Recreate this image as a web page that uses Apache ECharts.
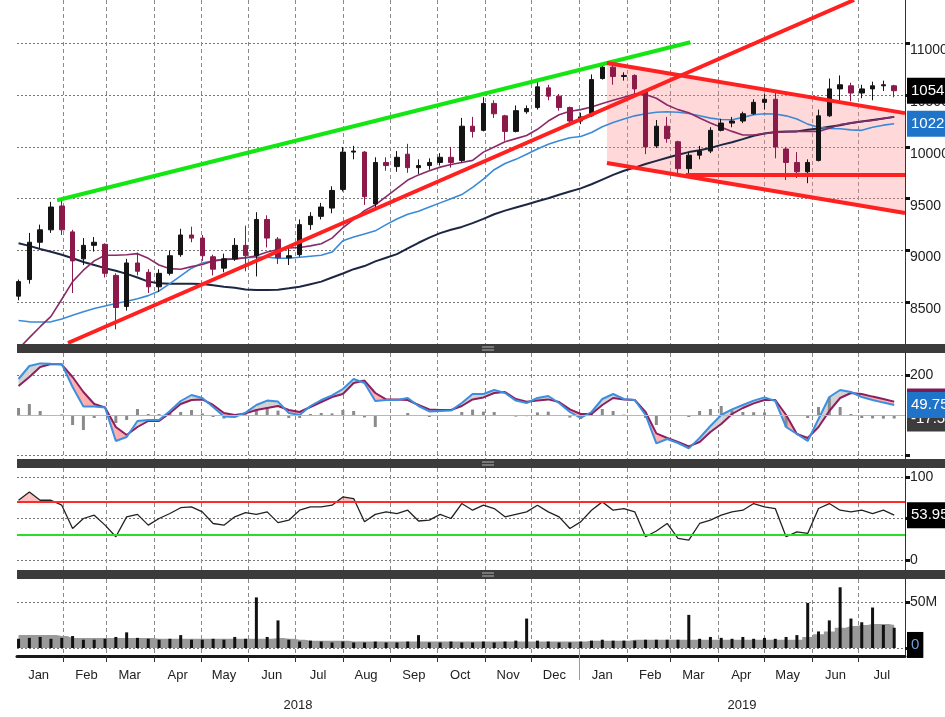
<!DOCTYPE html>
<html>
<head>
<meta charset="utf-8">
<title>Price, MACD, RSI and volume</title>
<script src="https://cdn.jsdelivr.net/npm/echarts@6.0.0/dist/echarts.min.js"></script>
<style>
  html, body { margin: 0; padding: 0; background: #fff; }
  #chart { width: 945px; height: 717px; }
</style>
</head>
<body>
<div id="chart"></div>
<script>
  // one entry per week, first week's Wednesday below
  const firstWeek = '2018-01-03';

  const weekOpen = [
    8560, 8720, 9080, 9200, 9430, 9180, 8920, 9050, 9060, 8760,
    8460, 8880, 8790, 8650, 8780, 8960, 9150, 9120, 8940, 8830,
    8920, 9050, 8950, 9300, 9110, 8930, 8960, 9250, 9330, 9410,
    9590, 9950, 9950, 9450, 9850, 9810, 9930, 9800, 9820, 9850,
    9900, 9870, 10200, 10160, 10420, 10300, 10150, 10340, 10380, 10570,
    10490, 10380, 10250, 10300, 10660, 10770, 10680, 10690, 10540, 10010,
    10200, 10050, 9790, 9920, 9960, 10160, 10230, 10250, 10320, 10430,
    10460, 9980, 9850, 9760, 9870, 10300, 10560, 10590, 10520, 10560,
    10590, 10590
  ];
  const weekClose = [
    8700, 9080, 9200, 9420, 9200, 8900, 9050, 9080, 8780, 8450,
    8880, 8800, 8650, 8780, 8950, 9150, 9120, 8950, 8820, 8920,
    9050, 8950, 9300, 9120, 8930, 8950, 9250, 9330, 9420, 9580,
    9950, 9960, 9520, 9850, 9820, 9900, 9800, 9820, 9850, 9900,
    9850, 10200, 10150, 10420, 10320, 10150, 10350, 10370, 10580, 10490,
    10380, 10250, 10290, 10650, 10770, 10680, 10690, 10560, 10000, 10200,
    10080, 9790, 9920, 9960, 10160, 10230, 10250, 10320, 10430, 10460,
    10000, 9850, 9760, 9850, 10300, 10560, 10600, 10520, 10560, 10590,
    10600, 10542.2
  ];
  const weekLow = [
    8520, 8680, 9020, 9170, 9150, 8590, 8860, 8990, 8740, 8240,
    8420, 8760, 8590, 8600, 8760, 8940, 9080, 8900, 8760, 8790,
    8900, 8800, 8750, 9030, 8870, 8860, 8940, 9200, 9300, 9360,
    9570, 9880, 9440, 9420, 9770, 9760, 9750, 9740, 9780, 9820,
    9800, 9850, 10090, 10150, 10280, 10060, 10140, 10320, 10360, 10450,
    10350, 10200, 10220, 10290, 10650, 10600, 10640, 10510, 9930, 9990,
    10040, 9740, 9730, 9880, 9940, 10150, 10190, 10230, 10310, 10360,
    9890, 9680, 9700, 9650, 9860, 10290, 10450, 10440, 10470, 10450,
    10540, 10480
  ];
  const weekHigh = [
    8720, 9170, 9250, 9470, 9490, 9200, 9120, 9130, 9070, 8780,
    8920, 8980, 8820, 8820, 9000, 9210, 9230, 9150, 8960, 8970,
    9120, 9240, 9370, 9340, 9130, 9050, 9300, 9370, 9460, 9620,
    10000, 10010, 9960, 9900, 9900, 9960, 10030, 9880, 9890, 9940,
    10000, 10280, 10290, 10480, 10450, 10310, 10400, 10400, 10640, 10600,
    10510, 10390, 10330, 10700, 10810, 10790, 10720, 10700, 10550, 10260,
    10290, 10060, 9950, 10010, 10190, 10270, 10290, 10340, 10460, 10510,
    10520, 10000, 9950, 9880, 10360, 10660, 10690, 10620, 10600, 10630,
    10640, 10600
  ];

  // moving averages (maroon, blue, navy)
  const maFast = [
    8050, 8160, 8265, 8365, 8530, 8700, 8810, 8900, 8955, 8955,
    8960, 8970, 8925, 8860, 8825, 8820, 8845, 8865, 8900, 8915,
    8920, 8930, 8950, 8985, 9010, 9025, 9030, 9045, 9065, 9120,
    9220, 9300, 9385, 9440, 9520, 9600, 9680, 9730, 9770, 9805,
    9830, 9850, 9870, 9950, 10000, 10050, 10080, 10110, 10170, 10250,
    10310, 10345, 10360, 10385, 10420, 10450, 10480, 10510, 10505, 10470,
    10405, 10360, 10330, 10280, 10230, 10190, 10150, 10115, 10115, 10130,
    10140, 10145, 10150, 10150, 10150, 10180, 10215, 10230, 10245, 10255,
    10275, 10290
  ];
  const maMid = [
    8325, 8312, 8310, 8312, 8340, 8375, 8410, 8440, 8465, 8488,
    8510, 8535, 8565, 8610, 8680, 8755, 8830, 8880, 8900, 8912,
    8920, 8930, 8935, 8935, 8925, 8925, 8935, 8945, 8955, 8985,
    9095, 9130, 9160, 9190, 9250, 9305, 9350, 9380, 9420, 9460,
    9500, 9540, 9610, 9690, 9780, 9840, 9880, 9930, 9980, 10025,
    10060, 10088, 10100, 10140, 10195, 10235, 10270, 10300, 10320, 10335,
    10340, 10335, 10322, 10300, 10278, 10265, 10262, 10285, 10310, 10320,
    10318, 10300, 10270, 10220, 10190, 10178, 10175, 10165, 10160, 10190,
    10210, 10222.9
  ];
  const maSlow = [
    9070, 9045, 9015, 8988, 8960, 8925, 8890, 8860, 8830, 8805,
    8775, 8740, 8700, 8685, 8680, 8680, 8680, 8678, 8665, 8650,
    8640, 8625, 8620, 8620, 8622, 8635, 8650, 8675, 8700, 8740,
    8778, 8820, 8850, 8895, 8930, 8965, 9020, 9075, 9125, 9168,
    9200, 9228, 9265, 9305, 9350, 9385, 9415, 9445, 9475, 9505,
    9538, 9570, 9600, 9640, 9685, 9730, 9770, 9800, 9835, 9865,
    9895, 9925, 9950, 9968, 9990, 10020, 10045, 10075, 10108, 10130,
    10145, 10148, 10150, 10165, 10178, 10195, 10210, 10230, 10245, 10260,
    10275, 10290
  ];

  // MACD panel
  const macdLine = [
    180, 245, 258, 256, 255, 140, 42, 42, 38, -130,
    -110, -30, -25, -25, 20, 70, 100, 85, 40, -8,
    -10, 12, 50, 72, 67, 10, 0, 45, 75, 98,
    130, 180, 160, 70, 75, 75, 85, 45, 18, 20,
    22, 60, 105, 105, 125, 110, 72, 60, 85, 95,
    60, 15, -15, 15, 80, 105, 80, 75, 0, -142,
    -120, -140, -167, -115, -55, 0, 28, 50, 72, 88,
    70, -60, -95, -130, -20, 90, 125, 115, 90, 75,
    62, 49.7556
  ];
  const signalLine = [
    145, 190, 240, 255, 252, 190, 115, 55, 38, -60,
    -100, -60, -30, -30, 10, 55, 75, 78, 50, 10,
    0, 8, 25, 35, 45, 25, 15, 40, 65, 90,
    105, 160, 172, 110, 78, 78, 75, 50, 28, 25,
    25, 45, 78, 88, 110, 115, 80, 66, 72, 78,
    65, 28, 5, 5, 50, 85, 78, 75, 15, -92,
    -115, -135, -157, -135, -85, -45, 5, 35, 58, 75,
    75, 0, -95, -115, -60, 20, 85, 110, 105, 92,
    80, 67.0
  ];
  const macdHist = [
    35, 55, 20, 0, 3, -50, -75, -15, 0, -40,
    -25, 30, 5, 5, 10, 15, 25, 8, -10, -18,
    -10, 4, 25, 37, 22, -15, -15, 5, 10, 8,
    25, 20, -12, -60, -3, -3, 10, -5, -10, -5,
    -3, 15, 27, 17, 15, -5, -8, -6, 13, 17,
    -5, -13, -20, 10, 30, 20, 2, 0, -15, -50,
    -5, -5, -10, 20, 30, 45, 23, 15, 14, 13,
    -5, -60, 0, -15, 40, 90, 40, 5, -15, -17,
    -18, -17.5
  ];

  // RSI panel
  const rsi = [
    72, 82, 72, 72, 66, 38, 50, 54, 42, 28,
    52, 55, 42, 50, 56, 63, 64, 58, 44, 42,
    52, 57, 55, 58, 45, 48, 60, 64, 64, 66,
    76, 74, 46, 55, 58, 56, 60, 47, 48, 55,
    50, 68, 60, 66, 62, 52, 55, 58, 66, 58,
    52, 38, 46, 60, 70, 60, 62, 58, 28, 35,
    44, 26, 24, 44, 48, 54, 58, 60, 68, 64,
    62, 28, 34, 32, 62, 68, 60, 58, 60, 56,
    60, 53.9585
  ];
  const rsiHigh = 70;
  const rsiLow = 30;

  // volume panel, millions
  const volume = [
    10, 11, 12, 10, 11, 13, 9, 9, 10, 12,
    17, 11, 10, 9, 10, 14, 9, 9, 10, 9,
    12, 10, 55, 12, 30, 9, 7, 8, 7, 6,
    7, 6, 6, 7, 6, 6, 7, 14, 6, 6,
    7, 6, 6, 7, 6, 7, 8, 32, 8, 7,
    6, 6, 7, 8, 9, 8, 8, 8, 9, 9,
    9, 9, 36, 10, 12, 11, 10, 12, 10, 11,
    10, 12, 14, 49, 18, 30, 66, 32, 28, 44,
    25, 22
  ];
  const volumeAvg = [
    14, 14, 14, 14, 13, 11, 11, 11, 11, 11,
    11, 11, 11, 10, 10, 10, 10, 10, 10, 10,
    10, 10, 10, 10, 11, 10, 9, 8, 8, 8,
    8, 7, 7, 7, 7, 7, 7, 7, 7, 7,
    7, 7, 7, 7, 7, 7, 7, 7, 7, 7,
    7, 7, 7, 8, 8, 8, 8, 9, 9, 9,
    9, 9, 9, 9, 9, 9, 9, 9, 9, 9,
    9, 9, 9, 12, 15, 18, 22, 24, 25, 26,
    26, 25
  ];
  const volumeTag = 3.3;

  // drawn trend lines: [date, price] end points
  const greenLine = [['2018-01-28', 9485], ['2019-03-14', 11010]];
  const redRise = [['2018-02-04', 8108], ['2019-06-28', 11418]];
  const channelTop = [['2019-01-19', 10810], ['2019-07-31', 10326]];
  const channelBottom = [['2019-01-19', 9845], ['2019-07-31', 9362]];
  const supportLine = [['2019-03-11', 9730], ['2019-07-31', 9730]];

  const priceTicks = [8500, 9000, 9500, 10000, 10500, 11000];
  const macdTicks = [-200, 200];
  const macdLabels = [200];
  const rsiTicks = [0, 50, 100];
  const rsiLabels = [0, 100];
  const volumeTicks = [0, 50];
  const volumeLabels = [50];
  const monthNames = ['Jan', 'Feb', 'Mar', 'Apr', 'May', 'Jun', 'Jul', 'Aug', 'Sep', 'Oct', 'Nov', 'Dec'];
  const axisStart = '2018-01-02';
  const axisEnd = '2019-07-31';
  const yearBreak = '2019-01-01';

  const FONT = '"Liberation Sans", Arial, sans-serif';
  const DAY = 864e5;

  function ts(s) {
    const p = s.split('-').map(Number);
    return new Date(p[0], p[1] - 1, p[2]).getTime();
  }

  const n = weekOpen.length;
  [weekClose, weekLow, weekHigh, maFast, maMid, maSlow, macdLine, signalLine, macdHist, rsi, volume, volumeAvg]
    .forEach((a, i) => { if (a.length !== n) throw new Error('length mismatch in array ' + i + ': ' + a.length); });

  const weekDates = weekOpen.map((_, k) => ts(firstWeek) + k * 7 * DAY);
  const xMin = ts(axisStart);
  const xMax = ts(axisEnd);

  const monthStarts = [];
  const monthMids = [];
  for (let m = 0; ; m++) {
    const start = new Date(2018, m, 1).getTime();
    if (start > xMax) break;
    if (start > xMin) monthStarts.push(start);
    monthMids.push(new Date(2018, m, 16).getTime());
  }
  const yearMids = [(xMin + ts(yearBreak)) / 2, (ts(yearBreak) + xMax) / 2];

  const gridBase = { left: 17, right: 40, containLabel: false, outerBoundsMode: 'none' };
  const grids = [
    Object.assign({ top: 0, height: 344 }, gridBase),
    Object.assign({ top: 353, height: 106 }, gridBase),
    Object.assign({ top: 468, height: 102 }, gridBase),
    Object.assign({ top: 579, height: 77 }, gridBase)
  ];

  // x axes are plain value axes holding timestamps, so custom tick lists work
  function timeAxis(gridIndex, bottom) {
    return {
      type: 'value', gridIndex, min: xMin, max: xMax,
      axisLine: { show: bottom, onZero: false, lineStyle: { color: '#1a1a1a', width: 3 } },
      axisTick: { show: bottom, customValues: monthStarts, length: 6, lineStyle: { color: '#333' } },
      axisLabel: {
        show: bottom, customValues: monthMids, margin: 13,
        formatter: (v) => monthNames[new Date(v).getMonth()],
        fontFamily: FONT, fontSize: 13, color: '#222'
      },
      splitLine: { show: true, lineStyle: { type: [4, 3], color: '#8a8a8a' } }
    };
  }

  function sideAxis(gridIndex, min, max, ticks, labels, fmt, vAlign) {
    return {
      type: 'value', gridIndex, position: 'right', min, max,
      axisLine: { show: true, lineStyle: { color: '#333' } },
      axisTick: { show: true, customValues: ticks, length: 5, lineStyle: { color: '#111', width: 3 } },
      axisLabel: {
        customValues: labels, margin: 5, verticalAlign: vAlign || 'middle',
        formatter: fmt || ((v) => String(v)),
        fontFamily: FONT, fontSize: 14, color: '#222'
      },
      splitLine: { show: true, lineStyle: { type: [2, 2], color: '#777' } }
    };
  }

  function tag(value, text, bg, fg) {
    return {
      yAxis: value,
      lineStyle: { color: 'rgba(0,0,0,0)', width: 0 },
      label: {
        show: true, position: 'end', distance: 2, formatter: text,
        backgroundColor: bg, color: fg || '#fff', fontFamily: FONT, fontSize: 15,
        padding: [6, 4, 5, 4]
      }
    };
  }

  // fill between two curves, coloured by which one is on top
  function bandRenderer(upper, lower, upColor, downColor) {
    return function (params, api) {
      const i = params.dataIndex;
      if (i >= n - 1) return null;
      const t0 = weekDates[i], t1 = weekDates[i + 1];
      const a0 = upper(i), a1 = upper(i + 1), b0 = lower(i), b1 = lower(i + 1);
      const d0 = a0 - b0, d1 = a1 - b1;
      const pa0 = api.coord([t0, a0]), pa1 = api.coord([t1, a1]);
      const pb0 = api.coord([t0, b0]), pb1 = api.coord([t1, b1]);
      const col = (d) => (d >= 0 ? upColor : downColor);
      const children = [];
      if (d0 * d1 < 0) {
        const f = d0 / (d0 - d1);
        const c = [pa0[0] + f * (pa1[0] - pa0[0]), pa0[1] + f * (pa1[1] - pa0[1])];
        if (col(d0)) children.push({ type: 'polygon', shape: { points: [pa0, c, pb0] }, style: { fill: col(d0) } });
        if (col(d1)) children.push({ type: 'polygon', shape: { points: [c, pa1, pb1] }, style: { fill: col(d1) } });
      } else if (col(d0 + d1)) {
        children.push({ type: 'polygon', shape: { points: [pa0, pa1, pb1, pb0] }, style: { fill: col(d0 + d1) } });
      }
      return { type: 'group', children };
    };
  }

  function segment(points, color) {
    return [
      { coord: [ts(points[0][0]), points[0][1]], lineStyle: { color, width: 4, type: 'solid' } },
      { coord: [ts(points[1][0]), points[1][1]] }
    ];
  }

  function handle(y) {
    return [
      { type: 'rect', shape: { x: 482, y: y - 2, width: 12, height: 1 }, style: { fill: '#b5b5b5' }, z: 101 },
      { type: 'rect', shape: { x: 482, y: y + 1, width: 12, height: 1 }, style: { fill: '#b5b5b5' }, z: 101 }
    ];
  }

  const last = n - 1;

  const option = {
    animation: false,
    backgroundColor: '#fff',
    grid: grids,
    xAxis: [
      timeAxis(0, false),
      timeAxis(1, false),
      timeAxis(2, false),
      timeAxis(3, true),
      {
        type: 'value', gridIndex: 3, min: xMin, max: xMax, position: 'bottom', offset: 30,
        axisLine: { show: false },
        axisTick: { show: true, customValues: [ts(yearBreak)], length: 32, lineStyle: { color: '#9a9a9a' } },
        axisLabel: {
          customValues: yearMids, margin: 13,
          formatter: (v) => String(new Date(v).getFullYear()),
          fontFamily: FONT, fontSize: 13, color: '#222'
        },
        splitLine: { show: false }
      }
    ],
    yAxis: [
      sideAxis(0, 8098, 11418, priceTicks, priceTicks, null, 'top'),
      sideAxis(1, -220, 310, macdTicks, macdLabels, null),
      sideAxis(2, -12, 110.8, rsiTicks, rsiLabels, null),
      sideAxis(3, -8.7, 75, volumeTicks, volumeLabels, (v) => v + 'M')
    ],
    graphic: [
      { type: 'rect', shape: { x: 17, y: 344, width: 928, height: 9 }, style: { fill: '#3b3b3b' }, z: 100 },
      { type: 'rect', shape: { x: 17, y: 459, width: 928, height: 9 }, style: { fill: '#3b3b3b' }, z: 100 },
      { type: 'rect', shape: { x: 17, y: 570, width: 928, height: 9 }, style: { fill: '#3b3b3b' }, z: 100 },
      ...handle(348.5), ...handle(463.5), ...handle(574.5)
    ],
    series: [
      {
        name: 'channel', type: 'custom', xAxisIndex: 0, yAxisIndex: 0, z: 1, clip: true,
        data: [[ts(channelTop[0][0]), channelTop[0][1]]],
        encode: { x: 0, y: 1 },
        renderItem: (params, api) => ({
          type: 'polygon',
          shape: {
            points: [
              api.coord([ts(channelTop[0][0]), channelTop[0][1]]),
              api.coord([ts(channelTop[1][0]), channelTop[1][1]]),
              api.coord([ts(channelBottom[1][0]), channelBottom[1][1]]),
              api.coord([ts(channelBottom[0][0]), channelBottom[0][1]])
            ]
          },
          style: { fill: 'rgba(255, 140, 140, 0.33)' }
        })
      },
      {
        name: 'MA slow', type: 'line', xAxisIndex: 0, yAxisIndex: 0, z: 2, showSymbol: false,
        data: weekDates.map((t, i) => [t, maSlow[i]]),
        lineStyle: { color: '#1d2744', width: 2 }
      },
      {
        name: 'MA mid', type: 'line', xAxisIndex: 0, yAxisIndex: 0, z: 2, showSymbol: false,
        data: weekDates.map((t, i) => [t, maMid[i]]),
        lineStyle: { color: '#3a8ad8', width: 1.6 },
        markLine: { symbol: ['none', 'none'], silent: true, data: [tag(maMid[last], maMid[last].toFixed(1), '#1f74c9')] }
      },
      {
        name: 'MA fast', type: 'line', xAxisIndex: 0, yAxisIndex: 0, z: 2, showSymbol: false,
        data: weekDates.map((t, i) => [t, maFast[i]]),
        lineStyle: { color: '#8a2a66', width: 1.6 }
      },
      {
        name: 'price', type: 'candlestick', xAxisIndex: 0, yAxisIndex: 0, z: 4,
        barWidth: 5,
        data: weekDates.map((t, i) => [t, weekOpen[i], weekClose[i], weekLow[i], weekHigh[i]]),
        encode: { x: 0, y: [1, 2, 3, 4] },
        itemStyle: { color: '#141414', color0: '#8b1a4b', borderColor: '#141414', borderColor0: '#8b1a4b', borderWidth: 1 },
        markLine: {
          symbol: ['none', 'none'], silent: true, label: { show: false },
          data: [
            segment(greenLine, '#14e614'),
            segment(redRise, '#ff2020'),
            segment(channelTop, '#ff2020'),
            segment(channelBottom, '#ff2020'),
            segment(supportLine, '#ff2020'),
            tag(weekClose[last], weekClose[last].toFixed(1), '#000')
          ]
        }
      },
      {
        name: 'MACD hist', type: 'bar', xAxisIndex: 1, yAxisIndex: 1, barWidth: 3, z: 2,
        data: weekDates.map((t, i) => [t, macdHist[i]]),
        itemStyle: { color: '#8a8a8a' },
        markLine: {
          symbol: ['none', 'none'], silent: true, label: { show: false },
          data: [{ yAxis: 0, lineStyle: { color: '#b8b8b8', type: 'solid', width: 1 } }]
        }
      },
      {
        name: 'MACD fill', type: 'custom', xAxisIndex: 1, yAxisIndex: 1, z: 1, clip: true,
        data: weekDates.map((t, i) => [t, macdLine[i], signalLine[i]]),
        encode: { x: 0, y: [1, 2] },
        renderItem: bandRenderer((i) => macdLine[i], (i) => signalLine[i], '#d2d2d2', 'rgba(255, 105, 105, 0.55)')
      },
      {
        name: 'signal', type: 'line', xAxisIndex: 1, yAxisIndex: 1, z: 3, showSymbol: false,
        data: weekDates.map((t, i) => [t, signalLine[i]]),
        lineStyle: { color: '#8c1f5e', width: 2 }
      },
      {
        name: 'MACD', type: 'line', xAxisIndex: 1, yAxisIndex: 1, z: 3, showSymbol: false,
        data: weekDates.map((t, i) => [t, macdLine[i]]),
        lineStyle: { color: '#3b8fe0', width: 2 },
        markLine: {
          symbol: ['none', 'none'], silent: true,
          data: [
            tag(signalLine[last], signalLine[last].toFixed(4), '#7d1a52'),
            tag(macdHist[last], macdHist[last].toFixed(4), '#3c3c3c'),
            tag(macdLine[last], macdLine[last].toFixed(4), '#1f74c9')
          ]
        }
      },
      {
        name: 'RSI fill', type: 'custom', xAxisIndex: 2, yAxisIndex: 2, z: 1, clip: true,
        data: weekDates.map((t, i) => [t, rsi[i]]),
        encode: { x: 0, y: 1 },
        renderItem: bandRenderer((i) => rsi[i], () => rsiHigh, 'rgba(255, 120, 120, 0.45)', null)
      },
      {
        name: 'RSI', type: 'line', xAxisIndex: 2, yAxisIndex: 2, z: 3, showSymbol: false,
        data: weekDates.map((t, i) => [t, rsi[i]]),
        lineStyle: { color: '#222', width: 1.3 },
        markLine: {
          symbol: ['none', 'none'], silent: true, label: { show: false },
          data: [
            { yAxis: rsiHigh, lineStyle: { color: '#ff2a2a', width: 2, type: 'solid' } },
            { yAxis: rsiLow, lineStyle: { color: '#2bdc2b', width: 2, type: 'solid' } },
            tag(rsi[last], rsi[last].toFixed(4), '#000')
          ]
        }
      },
      {
        name: 'volume avg', type: 'line', xAxisIndex: 3, yAxisIndex: 3, z: 1, showSymbol: false, step: 'middle',
        data: weekDates.map((t, i) => [t, volumeAvg[i]]),
        lineStyle: { width: 0 },
        areaStyle: { color: '#9a9a9a', opacity: 1 }
      },
      {
        name: 'volume', type: 'bar', xAxisIndex: 3, yAxisIndex: 3, z: 2, barWidth: 3,
        data: weekDates.map((t, i) => [t, volume[i]]),
        itemStyle: { color: '#111' },
        markLine: {
          symbol: ['none', 'none'], silent: true,
          data: [tag(volumeTag, '0', '#000', '#6f9fd8')]
        }
      }
    ]
  };

  const chart = echarts.init(document.getElementById('chart'));
  chart.setOption(option);
  window.addEventListener('resize', () => chart.resize());
</script>
</body>
</html>
